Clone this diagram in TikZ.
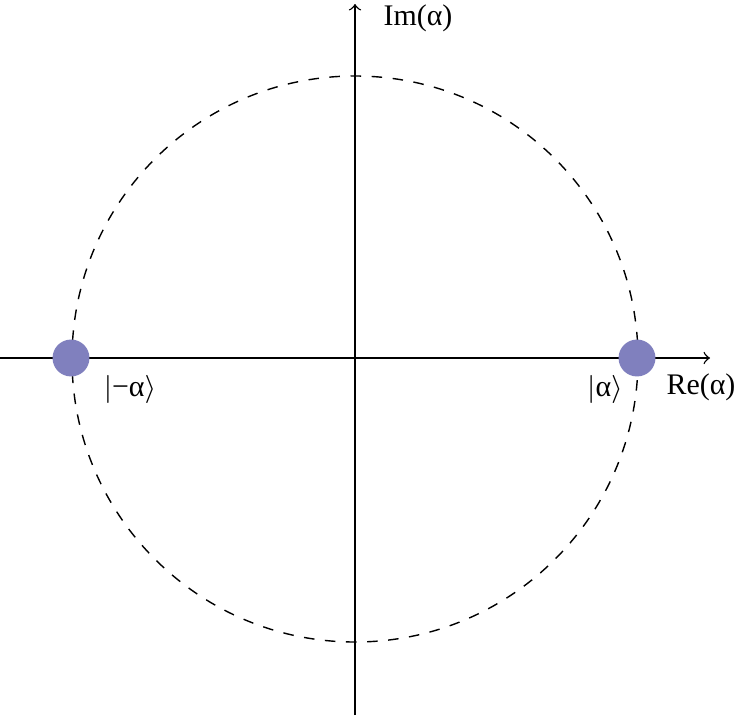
\documentclass[tikz,border=0pt]{standalone}
\usepackage{fontspec}
\setmainfont{Liberation Serif}
\begin{document}
\begin{tikzpicture}[x=0.01cm,y=-0.01cm,
  lbl/.style={font=\fontsize{8.5pt}{10pt}\selectfont,inner sep=0pt},
  dot/.style={circle,fill=blue!35!gray!80,minimum size=10.5pt,inner sep=0pt}]
\useasboundingbox (0,0) rectangle (743,715);
\draw[dashed] (355,359) circle (283);
\coordinate (xl) at (0,358); \coordinate (xr) at (710,358);
\coordinate (yb) at (355,715); \coordinate (yt) at (355,4);
\draw[->] (xl) -- (xr);
\draw[->] (yb) -- (yt);
\node[dot,fill={rgb,255:red,128;green,128;blue,190}] (m) at (71,358) {};
\node[dot,fill={rgb,255:red,128;green,128;blue,190}] (p) at (637,358) {};
\node[lbl] (lm) at (130,389) {$|$−α$\rangle$};
\node[lbl] (lp) at (605,389) {$|$α$\rangle$};
\node[lbl] (re) at (701,387) {Re(α)};
\node[lbl] (im) at (418,18) {Im(α)};
\end{tikzpicture}
\end{document}
